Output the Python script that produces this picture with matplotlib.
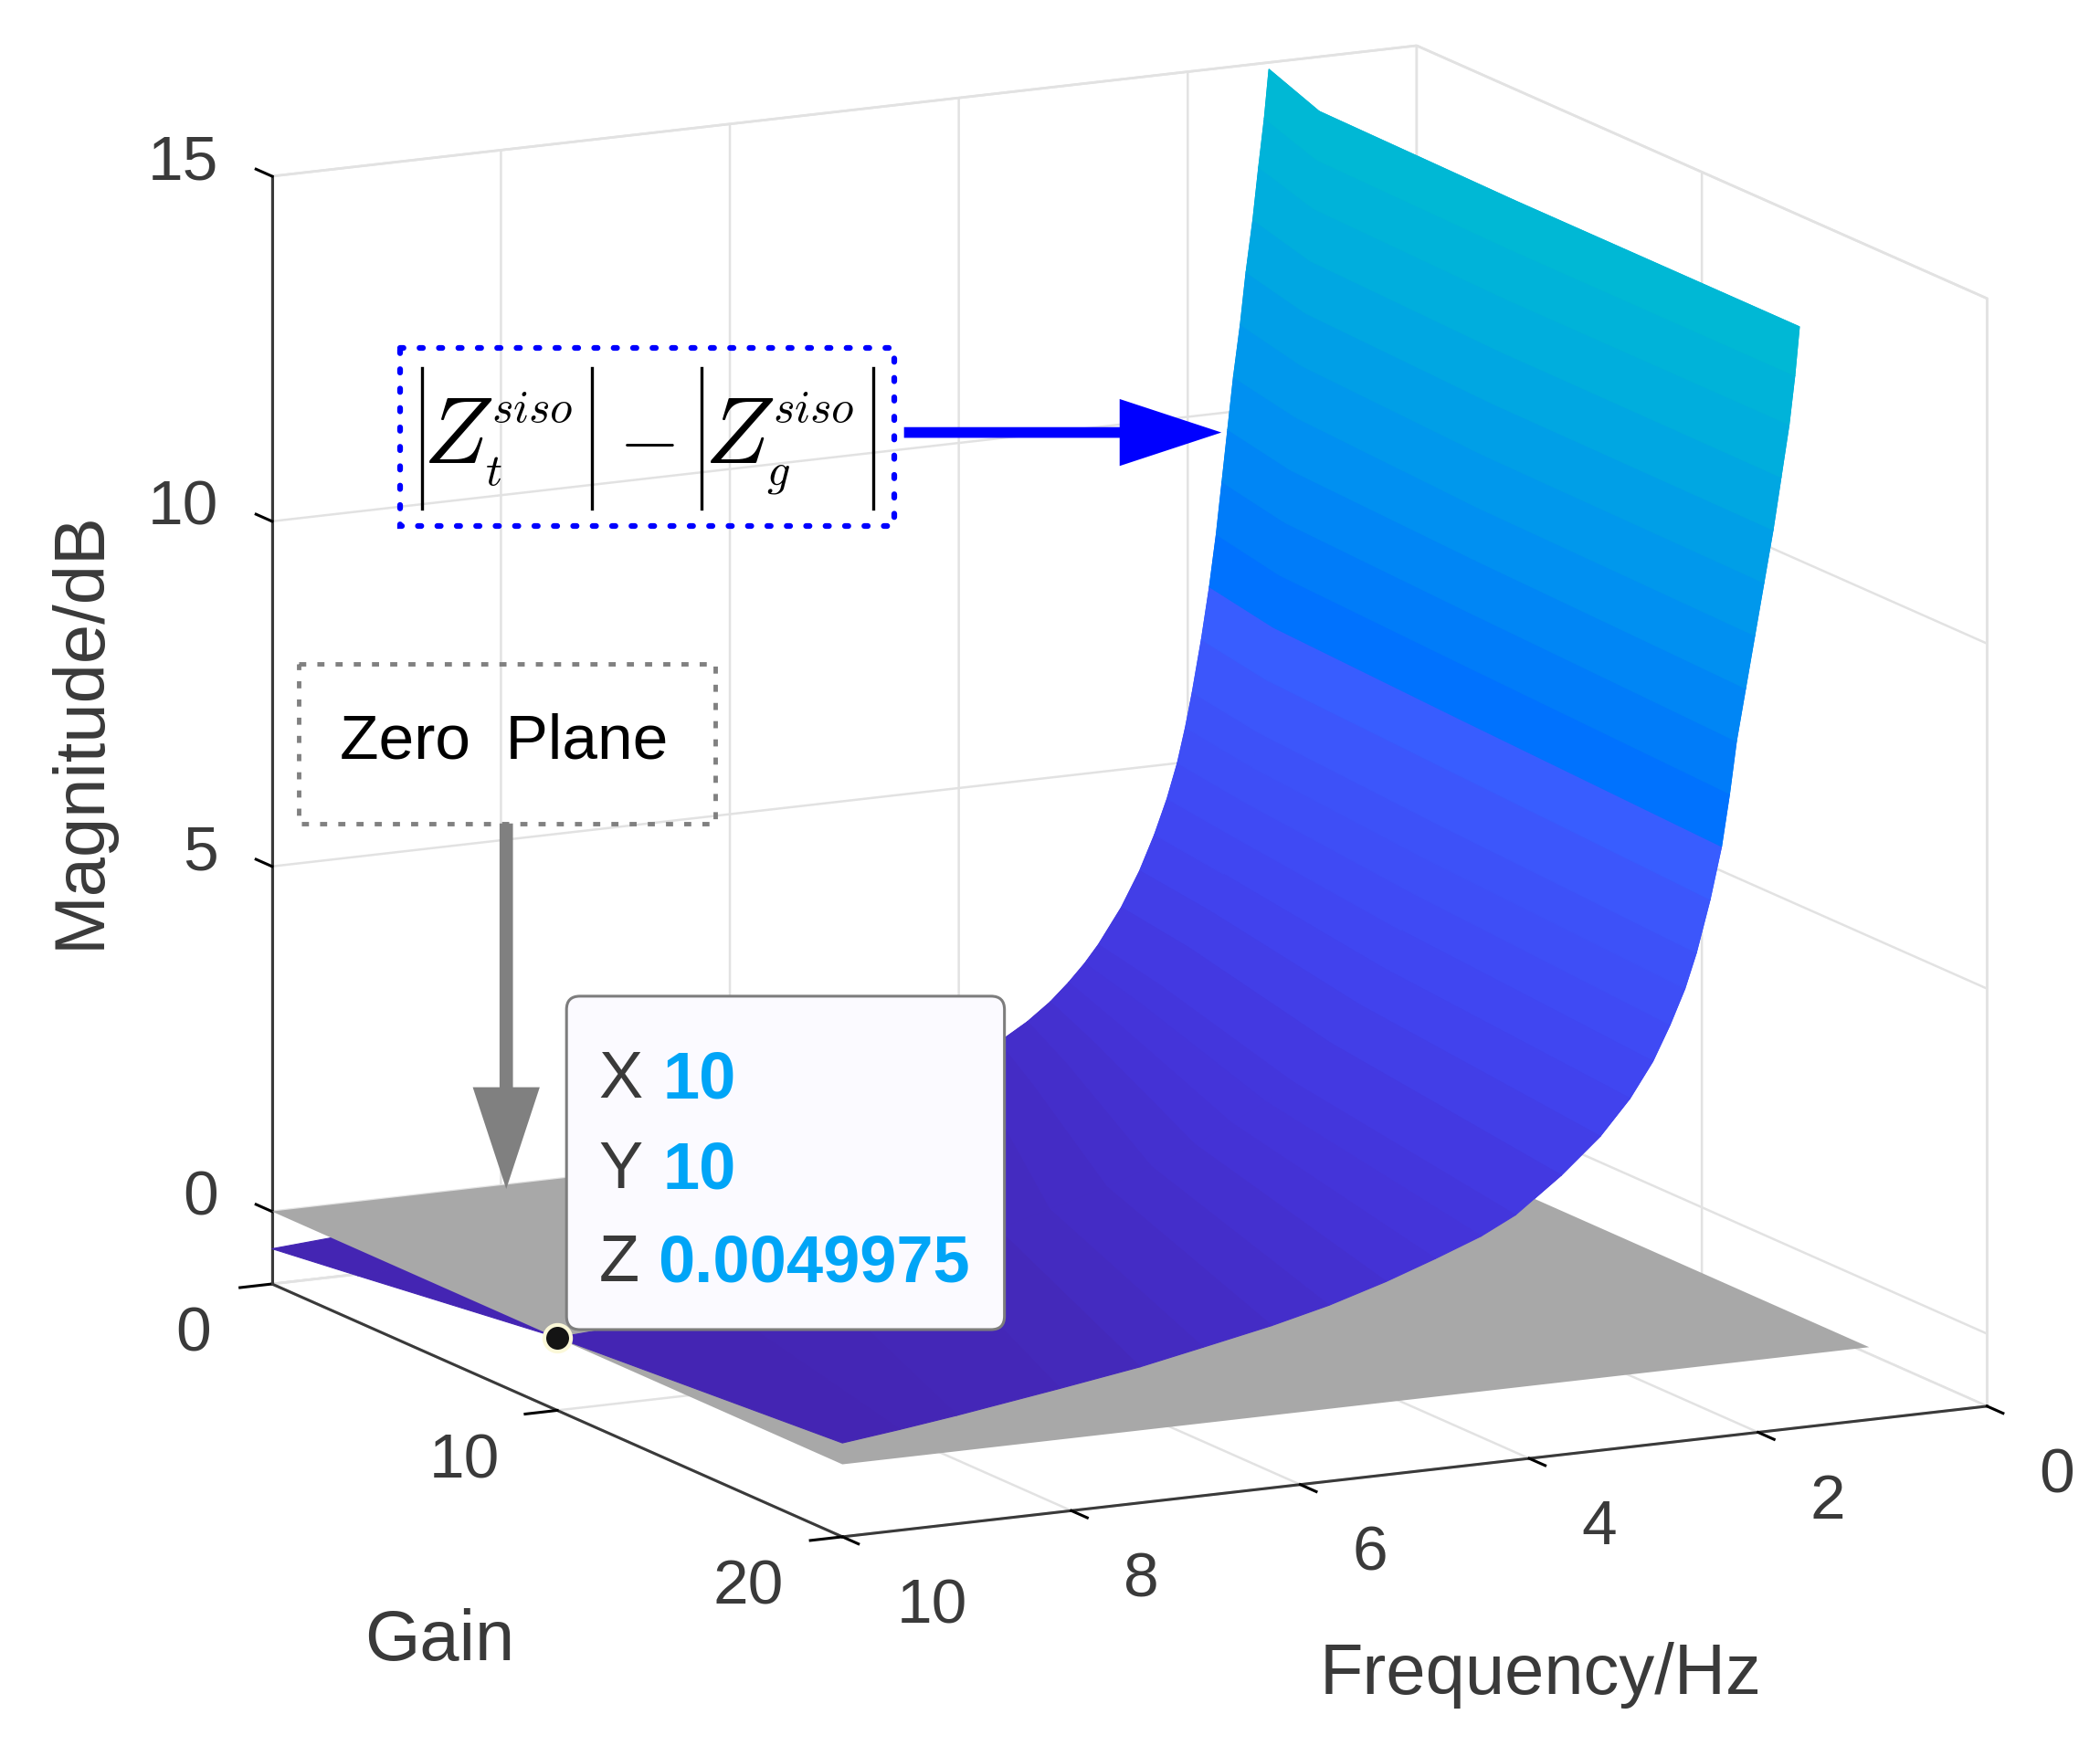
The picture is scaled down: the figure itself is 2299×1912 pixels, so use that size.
#!/usr/bin/env python
"""Difference of tower and grid impedance magnitude over frequency and gain."""
import matplotlib
matplotlib.use("Agg")
import matplotlib.pyplot as plt
import numpy as np
from matplotlib.colors import LinearSegmentedColormap
from matplotlib.patches import FancyArrow, FancyBboxPatch, Rectangle
from mpl_toolkits.mplot3d import proj3d

plt.rcParams["font.family"] = ["Liberation Sans", "DejaVu Sans"]
plt.rcParams["mathtext.fontset"] = "cm"

# surface rows, top of the wall down to f = 10 Hz, at gain 0 / 3 / 10 / 20
gains = [0, 3, 10, 20]
freq_g0 = [1.29, 1.33, 1.38, 1.43, 1.49, 1.54, 1.60, 1.65, 1.70, 1.75, 1.81, 1.88, 1.96, 2.02, 2.09, 2.18,
           2.29, 2.42, 2.58, 2.78, 2.90, 3.04, 3.20, 3.40, 3.65, 3.95, 4.30, 4.75, 5.70, 7.10, 10.0]
freq_g3 = [1.60, 1.62, 1.65, 1.68, 1.72, 1.76, 1.80, 1.85, 1.90, 1.95, 2.00, 2.06, 2.13, 2.18, 2.24, 2.32,
           2.43, 2.56, 2.74, 2.99, 3.15, 3.35, 3.55, 3.80, 4.10, 4.45, 4.85, 5.35, 6.20, 7.50, 10.0]
freq_g10 = [1.64, 1.68, 1.73, 1.78, 1.84, 1.90, 1.95, 1.98, 2.03, 2.08, 2.14, 2.21, 2.32, 2.41, 2.50, 2.62,
            2.79, 2.99, 3.25, 3.58, 3.81, 4.11, 4.43, 4.81, 5.20, 5.70, 6.15, 6.75, 7.70, 8.55, 10.0]
freq_g20 = [1.64, 1.68, 1.73, 1.80, 1.87, 1.95, 2.03, 2.11, 2.19, 2.25, 2.32, 2.42, 2.54, 2.64, 2.77, 2.92,
            3.12, 3.38, 3.72, 4.12, 4.42, 4.82, 5.25, 5.75, 6.25, 6.85, 7.40, 8.10, 9.00, 9.50, 10.0]
mag_g0 = [14.9, 14.2, 13.5, 12.75, 12.0, 11.25, 10.5, 9.75, 9.0, 8.25, 7.5, 6.75, 6.0, 5.5, 5.0, 4.5,
          4.0, 3.5, 3.0, 2.5, 2.25, 2.0, 1.75, 1.5, 1.25, 1.0, 0.75, 0.5, 0.1, -0.2, -0.54]
mag_g3 = [14.9, 14.2, 13.5, 12.75, 12.0, 11.25, 10.5, 9.75, 9.0, 8.25, 7.5, 6.75, 6.0, 5.5, 5.0, 4.5,
          4.0, 3.5, 3.0, 2.5, 2.25, 2.0, 1.75, 1.5, 1.26, 1.01, 0.78, 0.53, 0.16, -0.1, -0.38]
mag_g10 = [14.9, 14.2, 13.5, 12.75, 12.0, 11.25, 10.5, 9.75, 9.0, 8.25, 7.5, 6.75, 6.0, 5.5, 5.0, 4.5,
           4.0, 3.5, 3.0, 2.5, 2.25, 2.0, 1.75, 1.5, 1.28, 1.05, 0.85, 0.62, 0.33, 0.15, 0.005]
mag_g20 = [14.9, 14.2, 13.5, 12.75, 12.0, 11.25, 10.5, 9.75, 9.0, 8.25, 7.5, 6.75, 6.0, 5.5, 5.0, 4.5,
           4.0, 3.5, 3.0, 2.5, 2.25, 2.0, 1.75, 1.5, 1.3, 1.1, 0.92, 0.74, 0.52, 0.41, 0.31]

plane_freq = [1.03, 10]
plane_gain = [0, 20]
plane_mag = [[0, 0], [0, 0]]

x_ticks = [0, 2, 4, 6, 8, 10]
y_ticks = [0, 10, 20]
z_ticks = [0, 5, 10, 15]
z_floor = -1.05

tip_x, tip_y, tip_z = 10, 10, 0.0049975

color_levels = [-1.05, 0.6, 2.0, 4.0, 7.1, 7.6, 10.0, 13.0, 15.0]
color_stops = ["#4420ac", "#4428b8", "#4433d8", "#4144f0", "#3a5cff", "#006eff", "#008ff2", "#00adde", "#00bbd2"]

# colours of this figure
dark = "#3a3a3a"
light = "#e2e2e2"

fig = plt.figure(figsize=(22.99, 19.12), dpi=100)
ax = fig.add_axes([75 / 2299, -116 / 1912, 2262 / 2299, 2262 / 1912], projection="3d", proj_type="ortho")
ax.computed_zorder = False
ax.view_init(elev=13.0, azim=63.1)
ax.set_box_aspect((956, 939, 847))
ax.set_xlim(0, 10, view_margin=0)
ax.set_ylim(0, 20, view_margin=0)
ax.set_zlim(z_floor, 15, view_margin=0)
ax.patch.set_alpha(0)

# tick labels go on the overlay, they need offsets that mplot3d does not give
ax.set_xticks(x_ticks)
ax.set_yticks(y_ticks)
ax.set_zticks(z_ticks)
ax.set_xticklabels([])
ax.set_yticklabels([])
ax.set_zticklabels([])
for axis in (ax.xaxis, ax.yaxis, ax.zaxis):
    axis.set_pane_color((1, 1, 1, 1))
    axis.pane.set_edgecolor(light)
    axis.pane.set_linewidth(2)
    axis.line.set_color(dark)
    axis.line.set_linewidth(2.2)
    axis._axinfo["grid"].update(color=light, linewidth=1.8)
    axis._axinfo["tick"].update(inward_factor=0.35, outward_factor=0.0, color=dark,
                                linewidth={True: 2.2, False: 1})
# z ticks lean along the gain axis here
ax.zaxis._get_tickdir = lambda pos: 1
ax.zaxis._axinfo["tick"].update(inward_factor=0.0, outward_factor=0.35)

# rows run along the gain axis, so each row gets one colour from its mean level
X = np.column_stack([freq_g0, freq_g3, freq_g10, freq_g20])
Y = np.tile(gains, (len(freq_g0), 1))
Z = np.column_stack([mag_g0, mag_g3, mag_g10, mag_g20])
span = 15 - z_floor
cmap = LinearSegmentedColormap.from_list(
    "siso", [((v - z_floor) / span, c) for v, c in zip(color_levels, color_stops)], N=512)
mean_z = (Z[:-1, :-1] + Z[1:, :-1] + Z[:-1, 1:] + Z[1:, 1:]) / 4
row_z = mean_z.mean(axis=1, keepdims=True).repeat(mean_z.shape[1], axis=1)
face_rgba = cmap((row_z - z_floor) / span)
above = face_rgba.copy()
above[mean_z < 0] = (0, 0, 0, 0)

# part of the surface below zero sits under the plane
ax.plot_surface(X, Y, Z, facecolors=face_rgba, rstride=1, cstride=1, shade=False, linewidth=0.8, zorder=2)
px, py = np.meshgrid(plane_freq, plane_gain)
ax.plot_surface(px, py, np.array(plane_mag, float), color="#a8a8a8", shade=False, linewidth=0, zorder=3)
ax.plot_surface(X, Y, Z, facecolors=above, rstride=1, cstride=1, shade=False, linewidth=0.8, zorder=4)

# annotations are in picture coordinates, on an overlay
ov = fig.add_axes([0, 0, 1, 1], zorder=5)
ov.set_xlim(0, 1568)
ov.set_ylim(1304, 0)
ov.axis("off")
ov.patch.set_alpha(0)


def to_overlay(x, y, z):
    tx, ty, _ = proj3d.proj_transform(x, y, z, ax.get_proj())
    return ov.transData.inverted().transform(ax.transData.transform((tx, ty)))


for v in x_ticks:
    pos = to_overlay(v, 20, z_floor)
    shift = 67 if v == 10 else 52
    ov.text(pos[0] + shift, pos[1] + 52, str(v), fontsize=50, color=dark, ha="center", va="center")
for v, shift in zip(y_ticks, [-59, -69, -70]):
    pos = to_overlay(10, v, z_floor)
    ov.text(pos[0] + shift, pos[1] + 38, str(v), fontsize=50, color=dark, ha="center", va="center")
for v in z_ticks:
    pos = to_overlay(10, 0, v)
    ov.text(pos[0] - 40, pos[1] - 10, str(v), fontsize=50, color=dark, ha="right", va="center")

ov.add_patch(Rectangle((299, 260), 369, 133, fill=False, edgecolor="#0000ff", linewidth=4.5,
                       linestyle=(0, (0.6, 2.8)), capstyle="round"))
for bar_x in [315, 442, 524, 652]:
    ov.plot([bar_x, bar_x], [275, 380], color="black", lw=2.4)
ov.text(316, 346, r"$Z$", fontsize=74, color="black", ha="left", va="baseline")
ov.text(367, 315, r"$siso$", fontsize=36, color="black", ha="left", va="baseline")
ov.text(362, 362, r"$t$", fontsize=36, color="black", ha="left", va="baseline")
ov.text(483, 346, r"$-$", fontsize=62, color="black", ha="center", va="baseline")
ov.text(526, 346, r"$Z$", fontsize=74, color="black", ha="left", va="baseline")
ov.text(577, 315, r"$siso$", fontsize=36, color="black", ha="left", va="baseline")
ov.text(572, 362, r"$g$", fontsize=36, color="black", ha="left", va="baseline")
ov.add_patch(FancyArrow(675, 323, 237, 0, width=8, head_width=50, head_length=76,
                        length_includes_head=True, color="#0000ff", linewidth=0))

ov.add_patch(Rectangle((223, 496), 311, 119, fill=False, edgecolor="#808080", linewidth=3.5,
                       linestyle=(0, (1.6, 2.5))))
ov.text(376, 554, "Zero  Plane", fontsize=50, color="black", ha="center", va="center")
ov.add_patch(FancyArrow(378, 615, 0, 273, width=10, head_width=50, head_length=76,
                        length_includes_head=True, color="#808080", linewidth=0))

ov.add_patch(FancyBboxPatch((431, 752), 311, 233, boxstyle="round,pad=8,rounding_size=10",
                            facecolor="#fbfaff", edgecolor="#7d7d7d", linewidth=2.2))
blue = "#00a5f7"
for row_y, name, value, val_x in [(807, "X", "10", 495), (875, "Y", "10", 495), (944, "Z", "0.0049975", 491)]:
    ov.text(447, row_y, name, fontsize=52, color=dark, ha="left", va="center")
    ov.text(val_x, row_y, value, fontsize=52, color=blue, fontweight="bold", ha="left", va="center")

ov.text(60, 545, "Magnitude/dB", fontsize=56, color=dark, rotation=90, ha="center", va="center")
ov.text(328, 1226, "Gain", fontsize=56, color=dark, ha="center", va="center")
ov.text(1150, 1251, "Frequency/Hz", fontsize=56, color=dark, ha="center", va="center")

# data tip marker, over the callout edge
tip = to_overlay(tip_x, tip_y, tip_z)
ov.plot([tip[0]], [tip[1]], "o", ms=21, mfc="#141414", mec="#fbf8d8", mew=3)

fig.savefig("out.png", dpi=100)
